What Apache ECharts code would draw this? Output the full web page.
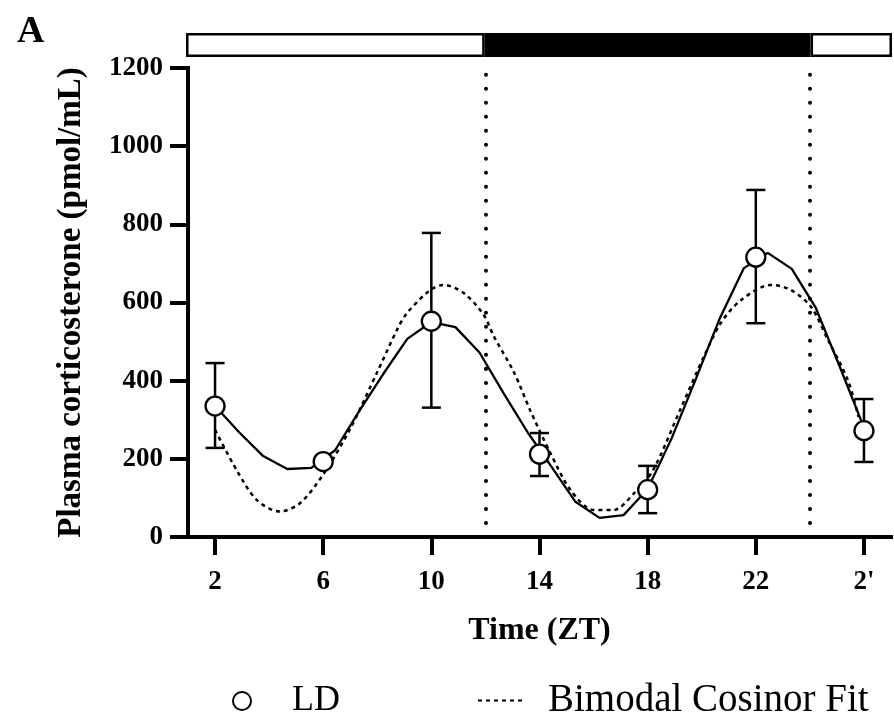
<!DOCTYPE html>
<html>
<head>
<meta charset="utf-8">
<script src="https://cdn.jsdelivr.net/npm/echarts@6/dist/echarts.min.js"></script>
<style>
html, body { margin: 0; padding: 0; background: #fff; }
#main { width: 894px; height: 721px; }
</style>
</head>
<body>
<div id="main"></div>
<script>
// axis ticks
const xTicks = [2, 6, 10, 14, 18, 22, 26];
const xTickLabels = ['2', '6', '10', '14', '18', '22', "2'"];

// LD group: mean and error bar ends (pmol/mL)
const ldTime = [2, 6, 10, 14, 18, 22, 26];
const ldMean = [335, 193, 552, 212, 121, 716, 272];
const ldUpper = [445, 193, 778, 266, 182, 888, 353];
const ldLower = [228, 193, 331, 156, 61, 547, 192];

// solid connecting curve
const curveTime = [2, 2.89, 3.78, 4.67, 5.56, 6.44, 7.33, 8.22, 9.11, 10, 10.89, 11.78, 12.67, 13.56,
  14.44, 15.33, 16.22, 17.11, 18, 18.89, 19.78, 20.67, 21.56, 22.44, 23.33, 24.22, 25.11, 26];
const curveValue = [335, 268, 207, 174, 177, 222, 322, 417, 507, 550, 537, 472, 368, 268,
  180, 90, 49, 56, 123, 253, 404, 560, 688, 727, 686, 586, 435, 280];

// bimodal cosinor fit
const fitTime = [2, 2.8, 3.54, 4.4, 5.15, 6, 7, 8, 8.73, 9.1, 9.96, 10.44, 11.2, 11.94, 12.3, 13.05,
  13.67, 14.4, 15.15, 16, 16.74, 17.5, 18.2, 19.2, 20.07, 20.7, 21.45, 22.56, 23.3, 24.04, 24.67, 25.4, 25.8];
const fitValue = [274, 171, 95, 65, 87, 160, 277, 422, 530, 573, 632, 645, 624, 568, 515, 422,
  322, 215, 120, 69, 69, 112, 171, 325, 460, 547, 606, 645, 632, 589, 504, 402, 307];

// light / dark bar
const phaseStart = [1, 12, 24];
const phaseEnd = [12, 24, 27];
const phaseDark = [0, 1, 0];
const lightChange = [12, 24];

const FONT = "'Liberation Serif', 'Times New Roman', serif";

const zip = (a, b) => a.map((v, i) => [v, b[i]]);

var chart = echarts.init(document.getElementById('main'));

chart.setOption({
  animation: false,
  backgroundColor: '#fff',
  title: {
    text: 'A',
    left: 12,
    top: 8,
    textStyle: { fontFamily: FONT, fontWeight: 'bold', fontSize: 38, color: '#000' }
  },
  legend: [{
    data: ['LD'],
    left: 227,
    top: 678,
    selectedMode: false,
    itemWidth: 18,
    itemHeight: 18,
    textStyle: { fontFamily: FONT, fontSize: 36, color: '#000', padding: [0, 0, 0, 36] }
  }, {
    data: ['Bimodal Cosinor Fit'],
    left: 472,
    top: 676,
    selectedMode: false,
    itemWidth: 48,
    itemHeight: 12,
    itemStyle: { opacity: 0 },
    textStyle: { fontFamily: FONT, fontSize: 39, color: '#000', padding: [0, 0, 0, 17] }
  }],
  grid: [
    { left: 188, right: 3, top: 68, bottom: 184 },
    { left: 186, right: 2, top: 33, height: 24 }
  ],
  xAxis: [{
    type: 'value',
    gridIndex: 0,
    min: 1,
    max: 27,
    name: 'Time (ZT)',
    nameLocation: 'middle',
    nameGap: 78,
    nameTextStyle: { fontFamily: FONT, fontWeight: 'bold', fontSize: 32, color: '#000' },
    splitLine: { show: false },
    axisLine: { lineStyle: { color: '#000', width: 4, cap: 'square' } },
    axisTick: { customValues: xTicks, length: 18, lineStyle: { color: '#000', width: 4 } },
    axisLabel: {
      customValues: xTicks,
      margin: 32,
      fontFamily: FONT, fontWeight: 'bold', fontSize: 27, color: '#000',
      formatter: function (v) { return xTickLabels[xTicks.indexOf(v)]; }
    }
  }, {
    type: 'value',
    gridIndex: 1,
    min: 1,
    max: 27,
    show: false
  }],
  yAxis: [{
    type: 'value',
    gridIndex: 0,
    min: 0,
    max: 1200,
    interval: 200,
    name: 'Plasma corticosterone (pmol/mL)',
    nameLocation: 'middle',
    nameGap: 100,
    nameTextStyle: { fontFamily: FONT, fontWeight: 'bold', fontSize: 33, color: '#000' },
    splitLine: { show: false },
    axisLine: { show: true, lineStyle: { color: '#000', width: 4, cap: 'square' } },
    axisTick: { show: true, length: 18, lineStyle: { color: '#000', width: 4 } },
    axisLabel: {
      margin: 25, fontFamily: FONT, fontWeight: 'bold', fontSize: 27, color: '#000',
      formatter: function (v) { return String(v); }
    }
  }, {
    type: 'value',
    gridIndex: 1,
    min: 0,
    max: 1,
    show: false
  }],
  series: [
    {
      name: 'phase',
      type: 'custom',
      xAxisIndex: 1,
      yAxisIndex: 1,
      silent: true,
      data: phaseStart.map((s, i) => [s, phaseEnd[i], phaseDark[i]]),
      renderItem: function (params, api) {
        var p0 = api.coord([api.value(0), 1]);
        var p1 = api.coord([api.value(1), 0]);
        var dark = api.value(2) === 1;
        var inset = dark ? 0 : 1.25;
        return {
          type: 'rect',
          shape: { x: p0[0] + inset, y: p0[1] + inset, width: p1[0] - p0[0] - 2 * inset, height: p1[1] - p0[1] - 2 * inset },
          style: { fill: dark ? '#000' : '#fff', stroke: '#000', lineWidth: dark ? 0 : 2.5 },
          z2: dark ? 2 : 1
        };
      }
    },
    {
      name: 'Bimodal Cosinor Fit',
      type: 'line',
      data: zip(fitTime, fitValue),
      smooth: 0.3,
      symbol: 'none',
      z: 3,
      lineStyle: { color: '#000', width: 2.5, type: [4, 4] },
      itemStyle: { color: '#000' },
      markLine: {
        silent: true,
        symbol: 'none',
        label: { show: false },
        lineStyle: { color: '#000', width: 4, type: [0.01, 14], cap: 'round' },
        data: lightChange.map(v => ({ xAxis: v }))
      }
    },
    {
      name: 'curve',
      type: 'line',
      data: zip(curveTime, curveValue),
      symbol: 'none',
      z: 3,
      lineStyle: { color: '#000', width: 2.3 }
    },
    {
      name: 'sem',
      type: 'custom',
      z: 4,
      silent: true,
      data: ldTime.map((t, i) => [t, ldUpper[i], ldLower[i]]),
      renderItem: function (params, api) {
        var top = api.coord([api.value(0), api.value(1)]);
        var bot = api.coord([api.value(0), api.value(2)]);
        var w = 9.5;
        var st = { stroke: '#000', lineWidth: 2.5 };
        return {
          type: 'group',
          children: [
            { type: 'line', shape: { x1: top[0], y1: top[1], x2: bot[0], y2: bot[1] }, style: st },
            { type: 'line', shape: { x1: top[0] - w, y1: top[1], x2: top[0] + w, y2: top[1] }, style: st },
            { type: 'line', shape: { x1: bot[0] - w, y1: bot[1], x2: bot[0] + w, y2: bot[1] }, style: st }
          ]
        };
      }
    },
    {
      name: 'LD',
      type: 'scatter',
      z: 5,
      data: zip(ldTime, ldMean),
      symbol: 'circle',
      symbolSize: 19,
      itemStyle: { color: '#fff', borderColor: '#000', borderWidth: 2.3, opacity: 1 }
    }
  ]
});
</script>
</body>
</html>
